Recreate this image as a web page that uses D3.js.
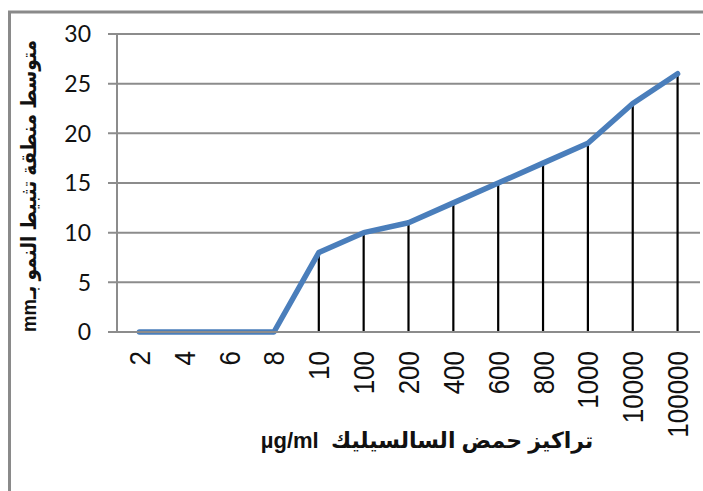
<!DOCTYPE html>
<meta charset="utf-8">
<script src="https://d3js.org/d3.v7.min.js"></script>
<style>
  body {
    margin: 0;
    background: #fff;
  }
</style>
<div id="my_dataviz"></div>
<script>
  // chart values
  var categories = ["2", "4", "6", "8", "10", "100", "200", "400", "600", "800", "1000", "10000", "100000"];
  var zoneValues = [0, 0, 0, 0, 8, 10, 11, 13, 15, 17, 19, 23, 26];
  var yTicks = [0, 5, 10, 15, 20, 25, 30];
  var yTitle = "متوسط منطقة تثبيط النمو بـmm";
  var xTitle = "تراكيز حمض السالسيليك  µg/ml";

  var W = 703, H = 491;
  var plot = { left: 117, right: 700, top: 34, bottom: 332 };

  var svg = d3.select("#my_dataviz")
    .append("svg")
    .attr("width", W)
    .attr("height", H);

  // outer frame (right and bottom edges run past the picture)
  svg.append("rect")
    .attr("x", 9.5)
    .attr("y", 12)
    .attr("width", 740)
    .attr("height", 520)
    .attr("fill", "none")
    .attr("stroke", "#8a8a8a")
    .attr("stroke-width", 3);

  // scales
  var x = d3.scaleBand()
    .domain(categories)
    .range([plot.left, plot.right]);

  var y = d3.scaleLinear()
    .domain([0, 30])
    .range([plot.bottom, plot.top]);

  // horizontal grid lines (also the y tick marks)
  svg.append("g")
    .selectAll("line")
    .data(yTicks)
    .enter().append("line")
    .attr("x1", plot.left - 9)
    .attr("x2", plot.right)
    .attr("y1", function(d) { return y(d); })
    .attr("y2", function(d) { return y(d); })
    .attr("stroke", "#8c8c8c")
    .attr("stroke-width", 2);

  // y axis line
  svg.append("line")
    .attr("x1", plot.left)
    .attr("x2", plot.left)
    .attr("y1", y(30))
    .attr("y2", y(0))
    .attr("stroke", "#8c8c8c")
    .attr("stroke-width", 2);

  // y tick labels
  svg.append("g")
    .selectAll("text")
    .data(yTicks)
    .enter().append("text")
    .attr("x", 91)
    .attr("y", function(d) { return y(d); })
    .attr("dy", "0.36em")
    .attr("text-anchor", "end")
    .style("font-family", "Lato, 'Open Sans', sans-serif")
    .style("font-size", "23px")
    .style("fill", "#111")
    .text(function(d) { return d; });

  // x tick labels, rotated (glyphs a bit wider across, as in the original)
  svg.append("g")
    .selectAll("text")
    .data(categories)
    .enter().append("text")
    .attr("transform", function(d) {
      return "translate(" + (x(d) + x.bandwidth() / 2) + ",351) rotate(-90) scale(1,1.12)";
    })
    .attr("dy", "0.36em")
    .attr("text-anchor", "end")
    .style("font-family", "'Liberation Sans', Arial, sans-serif")
    .style("font-size", "26px")
    .style("fill", "#111")
    .text(function(d) { return d; });

  // drop lines from every point down to the axis
  svg.append("g")
    .selectAll("line")
    .data(categories)
    .enter().append("line")
    .attr("x1", function(d) { return x(d) + x.bandwidth() / 2; })
    .attr("x2", function(d) { return x(d) + x.bandwidth() / 2; })
    .attr("y1", function(d, i) { return y(zoneValues[i]); })
    .attr("y2", y(0))
    .attr("stroke", "#000")
    .attr("stroke-width", 2.2);

  // the line itself
  var line = d3.line()
    .x(function(d, i) { return x(categories[i]) + x.bandwidth() / 2; })
    .y(function(d) { return y(d); });

  svg.append("path")
    .datum(zoneValues)
    .attr("d", line)
    .attr("fill", "none")
    .attr("stroke", "#4a7ebb")
    .attr("stroke-width", 5.5)
    .attr("stroke-linejoin", "round")
    .attr("stroke-linecap", "round");

  // x axis line drawn last so it sits over the drop lines
  svg.append("line")
    .attr("x1", plot.left - 9)
    .attr("x2", plot.right)
    .attr("y1", y(0))
    .attr("y2", y(0))
    .attr("stroke", "#8c8c8c")
    .attr("stroke-width", 2);

  // axis titles
  svg.append("text")
    .attr("transform", "translate(29,186) rotate(-90)")
    .attr("dy", "0.35em")
    .attr("text-anchor", "middle")
    .attr("direction", "rtl")
    .attr("textLength", 292)
    .attr("lengthAdjust", "spacingAndGlyphs")
    .style("font-family", "'Liberation Sans', 'DejaVu Sans', sans-serif")
    .style("font-weight", "bold")
    .style("font-size", "21px")
    .style("fill", "#111")
    .text(yTitle);

  svg.append("text")
    .attr("x", 427)
    .attr("y", 448)
    .attr("text-anchor", "middle")
    .attr("direction", "rtl")
    .style("white-space", "pre")
    .style("font-family", "'Liberation Sans', 'DejaVu Sans', sans-serif")
    .style("font-weight", "bold")
    .style("font-size", "22px")
    .style("fill", "#111")
    .text(xTitle);
</script>
